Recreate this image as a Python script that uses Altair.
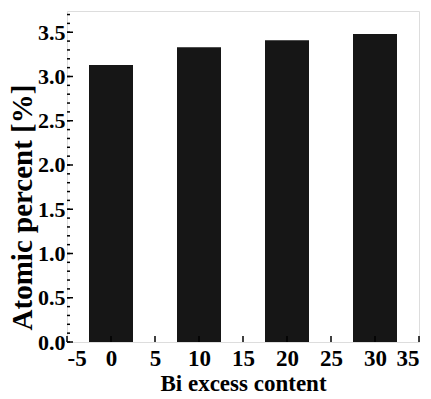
import altair as alt
import pandas as pd

categories = [0, 10, 20, 30]
values = [3.13, 3.33, 3.41, 3.48]
bar_half_width = 2.5

x_major = [-5, 0, 5, 10, 15, 20, 25, 30, 35]
y_major = [0.0, 0.5, 1.0, 1.5, 2.0, 2.5, 3.0, 3.5]
y_minor = [round(i * 0.1, 1) for i in range(0, 38)]

W, H = 352, 331
FONT = "Liberation Serif"

bars_df = pd.DataFrame({"x": [c - bar_half_width for c in categories],
                        "x2": [c + bar_half_width for c in categories],
                        "y": values})
xs = alt.Scale(domain=[-5, 35], nice=False, zero=False)
ys = alt.Scale(domain=[0, 3.74], nice=False)

bars = alt.Chart(bars_df).mark_rect(color="#161616").encode(
    x=alt.X("x:Q", scale=xs, axis=alt.Axis(
        values=x_major, labelExpr="'' + datum.value", title="Bi excess content", tickSize=0,
        labelPadding=5, labelFont=FONT, labelFontSize=23, labelFontWeight="bold",
        labelColor="black", titleFont=FONT, titleFontSize=23, titleFontWeight="bold",
        titleColor="black", titlePadding=2, domain=False, grid=False)),
    x2="x2:Q",
    y=alt.Y("y:Q", scale=ys, axis=alt.Axis(
        values=y_major, format=".1f", title="Atomic percent [%]", tickSize=0,
        labelPadding=2, labelFont=FONT, labelFontSize=22, labelFontWeight="bold",
        labelColor="black", titleFont=FONT, titleFontSize=29, titleFontWeight="bold",
        titleColor="black", titlePadding=0, titleY=196, domain=False, grid=False)),
    y2=alt.datum(0),
)

ymin_df = pd.DataFrame({"v": y_minor})
ymaj_df = pd.DataFrame({"v": y_major})
xmaj_df = pd.DataFrame({"v": x_major})

ytick_minor = alt.Chart(ymin_df).mark_rule(color="black", strokeWidth=1.5).encode(
    y=alt.Y("v:Q", scale=ys), x=alt.value(0), x2=alt.value(3))
ytick_major = alt.Chart(ymaj_df).mark_rule(color="black", strokeWidth=1.5).encode(
    y=alt.Y("v:Q", scale=ys), x=alt.value(0), x2=alt.value(6))
xtick_major = alt.Chart(xmaj_df).mark_rule(color="black", strokeWidth=1.5).encode(
    x=alt.X("v:Q", scale=xs), y=alt.value(H), y2=alt.value(H - 6))

chart = alt.layer(bars, ytick_minor, ytick_major, xtick_major).properties(
    width=W, height=H,
    padding={"left": 67, "top": 11, "right": 12, "bottom": 57},
    autosize=alt.AutoSizeParams(type="none"),
).configure_view(stroke="black", strokeWidth=2.5).configure(background="white")

chart.save("out.html", embed_options={"renderer": "svg", "actions": False})
